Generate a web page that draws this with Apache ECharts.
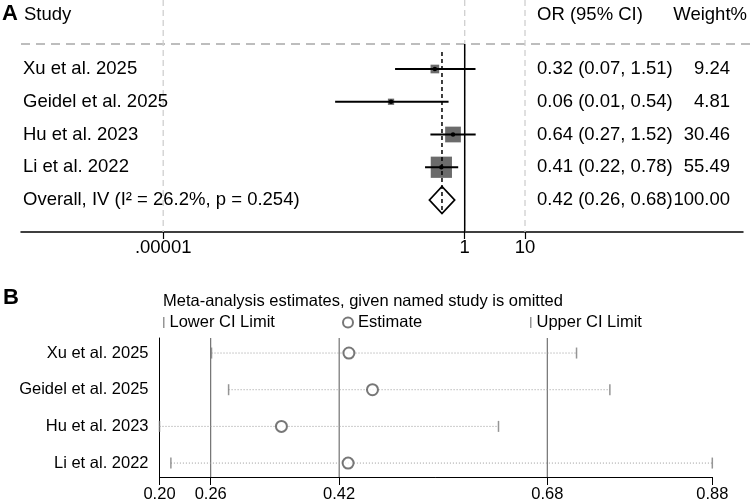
<!DOCTYPE html>
<html>
<head>
<meta charset="utf-8">
<script src="https://cdn.jsdelivr.net/npm/echarts@6/dist/echarts.min.js"></script>
<style>
  html, body { margin: 0; padding: 0; background: #fff; }
  #main { width: 750px; height: 504px; }
</style>
</head>
<body>
<div id="main"></div>
<script>
// ---- panel A: forest plot (OR, log scale) ----
const studies = ['Xu et al. 2025', 'Geidel et al. 2025', 'Hu et al. 2023', 'Li et al. 2022'];
const orEst = [0.32, 0.06, 0.64, 0.41];
const orLow = [0.07, 0.0071, 0.27, 0.22];
const orHigh = [1.51, 0.54, 1.52, 0.78];
const weights = [9.24, 4.81, 30.46, 55.49];
const overallLabel = 'Overall, IV (I² = 26.2%, p = 0.254)';
const overallEst = 0.42;
const overallLow = 0.26;
const overallHigh = 0.68;
const overallWeight = 100;
const forestTicks = [0.00001, 1, 10];
const forestTickLabels = ['.00001', '1', '10'];

// ---- panel B: leave-one-out estimates ----
const omitEst = [0.433, 0.462, 0.350, 0.432];
const omitLow = [0.264, 0.285, 0.200, 0.214];
const omitHigh = [0.713, 0.754, 0.617, 0.880];
const sensTicks = [0.20, 0.263, 0.421, 0.677, 0.88];

const FAM = '"Liberation Sans", Arial, Helvetica, sans-serif';
const A_NAME_X = 23, A_CI_X = 537, A_W_X = 730, A_HEAD_Y = 15, A_SEP_Y = 44;

const chart = echarts.init(document.getElementById('main'));

function textEl(x, y, s, align) {
  return {
    type: 'text',
    style: { text: s, x: x, y: y, fill: '#000', fontSize: 18.5, fontFamily: FAM,
             align: align || 'left', verticalAlign: 'middle' }
  };
}

const forestData = studies.map((s, i) =>
  [Math.log10(orLow[i]), Math.log10(orHigh[i]), Math.log10(orEst[i]), i + 1]);
forestData.push([Math.log10(overallLow), Math.log10(overallHigh), Math.log10(overallEst), studies.length + 1]);

function renderForest(params, api) {
  const i = params.dataIndex;
  const row = api.value(3);
  const lo = api.coord([api.value(0), row]);
  const hi = api.coord([api.value(1), row]);
  const est = api.coord([api.value(2), row]);
  const y = est[1];
  const cs = params.coordSys;
  const kids = [];
  let name, e, l, h, w;
  if (i < studies.length) {
    const s = 2.85 * Math.sqrt(weights[i]); // box area ~ weight
    kids.push({ type: 'rect', shape: { x: est[0] - s / 2, y: y - s / 2, width: s, height: s },
                style: { fill: '#6b6b6b' } });
    kids.push({ type: 'line', shape: { x1: lo[0], y1: y, x2: hi[0], y2: y },
                style: { stroke: '#000', lineWidth: 2 } });
    kids.push({ type: 'circle', shape: { cx: est[0], cy: y, r: 2.2 }, style: { fill: '#000' } });
    name = studies[i]; e = orEst[i]; l = orLow[i]; h = orHigh[i]; w = weights[i];
  } else {
    const dh = 13.5;
    const xNull = api.coord([0, row])[0];
    // no-effect line
    kids.push({ type: 'line', shape: { x1: xNull, y1: A_SEP_Y, x2: xNull, y2: cs.y + cs.height },
                style: { stroke: '#000', lineWidth: 1.5 } });
    kids.push({ type: 'polygon',
                shape: { points: [[lo[0], y], [est[0], y - dh], [hi[0], y], [est[0], y + dh]] },
                style: { fill: '#fff', stroke: '#000', lineWidth: 1.8 } });
    // overall estimate dashed line
    kids.push({ type: 'line', shape: { x1: est[0], y1: api.coord([0, 0.48])[1], x2: est[0], y2: y + dh },
                style: { stroke: '#000', lineWidth: 1.5, lineDash: [4, 3] } });
    name = overallLabel; e = overallEst; l = overallLow; h = overallHigh; w = overallWeight;
  }
  kids.push(textEl(A_NAME_X, y, name));
  kids.push(textEl(A_CI_X, y, e.toFixed(2) + ' (' + l.toFixed(2) + ', ' + h.toFixed(2) + ')'));
  kids.push(textEl(A_W_X, y, w.toFixed(2), 'right'));
  return { type: 'group', children: kids };
}

// vertical full-height lines for a grid
function vLine(style) {
  return function (params, api) {
    const cs = params.coordSys;
    const x = api.coord([api.value(0), api.value(1)])[0];
    return { type: 'line', shape: { x1: x, y1: cs.y, x2: x, y2: cs.y + cs.height }, style: style };
  };
}

function renderDotted(params, api) {
  const a = api.coord([api.value(0), api.value(2)]);
  const b = api.coord([api.value(1), api.value(2)]);
  return { type: 'line', shape: { x1: a[0], y1: a[1], x2: b[0], y2: b[1] },
           style: { stroke: '#9a9a9a', lineWidth: 1, lineDash: [1, 2] } };
}

const legendText = { fontSize: 16.5, color: '#000', fontFamily: FAM };

const option = {
  animation: false,
  textStyle: { fontFamily: FAM },
  title: [
    { text: 'A', left: 2, top: 3, padding: 0, textStyle: { fontSize: 22, fontWeight: 'bold', color: '#000', fontFamily: 'Arial, ' + FAM } },
    { text: 'B', left: 3, top: 287, padding: 0, textStyle: { fontSize: 22, fontWeight: 'bold', color: '#000', fontFamily: 'Arial, ' + FAM } },
    { text: 'Meta-analysis estimates, given named study is omitted', left: 163, top: 293, padding: 0,
      textStyle: { fontSize: 16.5, fontWeight: 'normal', color: '#000', fontFamily: FAM } }
  ],
  legend: [
    { data: ['Lower CI Limit'], left: 163, top: 314, padding: 0, icon: 'rect', itemWidth: 1.5, itemHeight: 11,
      selectedMode: false, textStyle: legendText },
    { data: ['Estimate'], left: 342, top: 314, padding: 0, icon: 'emptyCircle', itemWidth: 10, itemHeight: 10,
      itemGap: 0, selectedMode: false, textStyle: legendText },
    { data: ['Upper CI Limit'], left: 530, top: 314, padding: 0, icon: 'rect', itemWidth: 1.5, itemHeight: 11,
      selectedMode: false, textStyle: legendText }
  ],
  grid: [
    { left: 21, right: 7, top: 0, height: 232, containLabel: false, outerBoundsMode: 'none' },
    { left: 159.5, right: 37.7, top: 338, bottom: 27, containLabel: false, outerBoundsMode: 'none' }
  ],
  xAxis: [
    {
      gridIndex: 0, type: 'value', min: -7.358, max: 4.615,
      axisLine: { show: true, onZero: false, lineStyle: { color: '#000', width: 1.5 } },
      axisTick: { show: true, customValues: forestTicks.map(Math.log10), length: 7, lineStyle: { color: '#000', width: 1.2 } },
      axisLabel: {
        customValues: forestTicks.map(Math.log10), margin: 6, fontSize: 18.5, color: '#000', fontFamily: FAM,
        formatter: v => forestTickLabels[forestTicks.findIndex(t => Math.abs(Math.log10(t) - v) < 1e-6)]
      },
      splitLine: { show: false }
    },
    {
      gridIndex: 1, type: 'value', min: sensTicks[0], max: sensTicks[sensTicks.length - 1],
      axisLine: { show: true, onZero: false, lineStyle: { color: '#000', width: 1 } },
      axisTick: { show: true, customValues: sensTicks, length: 8, lineStyle: { color: '#000' } },
      axisLabel: { customValues: sensTicks, margin: 9, fontSize: 16.5, color: '#000', fontFamily: FAM,
                   formatter: v => v.toFixed(2) },
      splitLine: { show: false }
    }
  ],
  yAxis: [
    { gridIndex: 0, type: 'value', inverse: true, min: -1.107, max: 5.977, show: false },
    {
      gridIndex: 1, type: 'value', inverse: true, min: -0.41, max: 3.38,
      axisLine: { show: true, onZero: false, lineStyle: { color: '#000', width: 1 } },
      axisTick: { show: false },
      axisLabel: { customValues: studies.map((s, i) => i), margin: 11, fontSize: 16.5, color: '#000', fontFamily: FAM,
                   formatter: v => studies[Math.round(v)] },
      splitLine: { show: false }
    }
  ],
  series: [
    {
      type: 'custom', xAxisIndex: 0, yAxisIndex: 0, silent: true,
      data: forestTicks.map(t => [Math.log10(t), 0]),
      renderItem: vLine({ stroke: '#cfcfcf', lineWidth: 1.3, lineDash: [6, 4] })
    },
    {
      type: 'custom', xAxisIndex: 0, yAxisIndex: 0, silent: true,
      data: forestData, encode: { x: [0, 1, 2], y: 3 },
      renderItem: renderForest
    },
    {
      type: 'custom', xAxisIndex: 1, yAxisIndex: 1, silent: true,
      data: sensTicks.slice(1, sensTicks.length - 1).map(t => [t, 0]),
      renderItem: vLine({ stroke: '#555', lineWidth: 1 })
    },
    {
      type: 'custom', xAxisIndex: 1, yAxisIndex: 1, silent: true,
      data: studies.map((s, i) => [omitLow[i], omitHigh[i], i]), encode: { x: [0, 1], y: 2 },
      renderItem: renderDotted
    },
    {
      name: 'Lower CI Limit', type: 'scatter', xAxisIndex: 1, yAxisIndex: 1, silent: true,
      symbol: 'rect', symbolSize: [1.5, 11], itemStyle: { color: '#7a7a7a' },
      data: omitLow.map((v, i) => [v, i])
    },
    {
      name: 'Estimate', type: 'scatter', xAxisIndex: 1, yAxisIndex: 1, silent: true,
      symbol: 'emptyCircle', symbolSize: 11, itemStyle: { color: '#555', borderWidth: 1 },
      data: omitEst.map((v, i) => [v, i])
    },
    {
      name: 'Upper CI Limit', type: 'scatter', xAxisIndex: 1, yAxisIndex: 1, silent: true,
      symbol: 'rect', symbolSize: [1.5, 11], itemStyle: { color: '#7a7a7a' },
      data: omitHigh.map((v, i) => [v, i])
    }
  ],
  graphic: [
    { type: 'line', shape: { x1: 21, y1: A_SEP_Y, x2: 750, y2: A_SEP_Y }, silent: true,
      style: { stroke: '#a8a8a8', lineWidth: 1.5, lineDash: [9, 6] } },
    { type: 'text', left: 24, top: A_HEAD_Y - 10, silent: true,
      style: { text: 'Study', fill: '#000', fontSize: 18.5, fontFamily: FAM } },
    { type: 'text', left: A_CI_X, top: A_HEAD_Y - 10, silent: true,
      style: { text: 'OR (95% CI)', fill: '#000', fontSize: 18.5, fontFamily: FAM } },
    { type: 'text', right: 3, top: A_HEAD_Y - 10, silent: true,
      style: { text: 'Weight%', fill: '#000', fontSize: 18.5, fontFamily: FAM } }
  ]
};

chart.setOption(option);
</script>
</body>
</html>
